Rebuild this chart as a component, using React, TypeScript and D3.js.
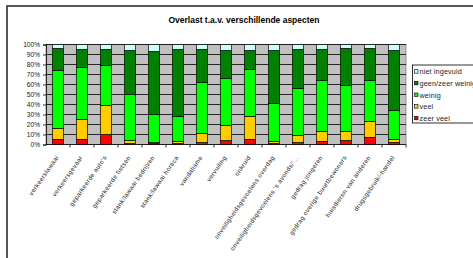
import { useEffect, useRef } from 'react';
import * as d3 from 'd3';

const categories = [
  'verkeerslawaai',
  'verkeersgevaar',
  "geparkeerde auto's",
  'geparkeerde fietsen',
  'stank/lawaai bedrijven',
  'stank/lawaai horeca',
  'vandalisme',
  'vervuiling',
  'onkruid',
  'onveiligheidsgevoelens overdag',
  "onveiligheidsgevoelens 's avonds/'...",
  'gedrag jongeren',
  'gedrag overige buurtbewoners',
  'huisdieren van anderen',
  'drugsgebruik/-handel',
];

// percentages per category, stacked bottom to top
const zeerVeel = [5, 5, 10, 1, 1, 1, 2, 4, 5, 1, 2, 3, 4, 7, 2];
const veel = [11, 20, 29, 3, 1, 2, 9, 15, 23, 2, 7, 10, 9, 16, 3];
const weinig = [58, 52, 40, 46, 28, 25, 51, 47, 47, 38, 47, 51, 46, 41, 29];
const geenZeerWeinig = [22, 18, 16, 44, 63, 67, 33, 28, 19, 53, 39, 31, 37, 32, 60];
const nietIngevuld = [4, 5, 5, 6, 7, 5, 5, 6, 6, 6, 5, 5, 4, 4, 6];

const seriesNames = ['zeer veel', 'veel', 'weinig', 'geen/zeer weinig', 'niet ingevuld'];
const seriesColors = ['#ff0000', '#ffcc00', '#00ff00', '#008000', '#ccffff'];
const yTicks = [0, 10, 20, 30, 40, 50, 60, 70, 80, 90, 100];

const W = 473;
const H = 258;
const FONT = '"Liberation Sans", Arial, sans-serif';

export default function App() {
  const svgRef = useRef<SVGSVGElement>(null);

  useEffect(() => {
    if (!svgRef.current) return;
    const svg = d3.select(svgRef.current);
    svg.selectAll('*').remove();

    // outer chart border
    svg.append('rect')
      .attr('x', 7).attr('y', 6)
      .attr('width', 600).attr('height', 400)
      .attr('fill', '#fff')
      .attr('stroke', '#222')
      .attr('stroke-width', 1.5);

    svg.append('text')
      .attr('x', 244).attr('y', 23)
      .attr('text-anchor', 'middle')
      .attr('font-family', FONT)
      .attr('font-weight', 'bold')
      .attr('font-size', 8.5)
      .text('Overlast t.a.v. verschillende aspecten');

    const left = 46, right = 406, top = 44.5, bottom = 144.5;

    const x = d3.scaleBand<string>()
      .domain(categories)
      .range([left, right])
      .paddingInner(0.54)
      .paddingOuter(0.27);
    const xBand = d3.scaleBand<string>().domain(categories).range([left, right]);
    const y = d3.scaleLinear().domain([0, 100]).range([bottom, top]);

    // plot area
    svg.append('rect')
      .attr('x', left).attr('y', top)
      .attr('width', right - left).attr('height', bottom - top)
      .attr('fill', '#c0c0c0')
      .attr('stroke', '#808080')
      .attr('stroke-width', 0.8);

    svg.append('g')
      .selectAll('line')
      .data(yTicks.slice(1))
      .enter()
      .append('line')
      .attr('x1', left).attr('x2', right)
      .attr('y1', d => y(d)).attr('y2', d => y(d))
      .attr('stroke', '#000')
      .attr('stroke-width', 0.8);

    // y axis
    const yAxis = svg.append('g')
      .attr('transform', `translate(${left},0)`)
      .call(d3.axisLeft(y).tickValues(yTicks).tickSize(3).tickPadding(3).tickFormat(d => `${d}%`));
    yAxis.select('.domain').attr('stroke', '#000').attr('stroke-width', 0.8);
    yAxis.selectAll('line').attr('stroke', '#000').attr('stroke-width', 0.8);
    yAxis.selectAll('text')
      .attr('font-family', FONT)
      .attr('font-size', 6.6)
      .attr('fill', '#222');

    // x axis line and boundary ticks
    svg.append('line')
      .attr('x1', left).attr('x2', right)
      .attr('y1', bottom).attr('y2', bottom)
      .attr('stroke', '#000').attr('stroke-width', 0.8);
    svg.append('g')
      .selectAll('line')
      .data(categories)
      .enter()
      .append('line')
      .attr('x1', d => (xBand(d) || 0) + xBand.bandwidth())
      .attr('x2', d => (xBand(d) || 0) + xBand.bandwidth())
      .attr('y1', bottom).attr('y2', bottom + 3)
      .attr('stroke', '#000').attr('stroke-width', 0.8);

    // stacked bars
    const table = categories.map((c, i) => ({
      cat: c,
      'zeer veel': zeerVeel[i],
      veel: veel[i],
      weinig: weinig[i],
      'geen/zeer weinig': geenZeerWeinig[i],
      'niet ingevuld': nietIngevuld[i],
    }));
    const stack = d3.stack<any>().keys(seriesNames)(table);

    const layers = svg.append('g')
      .selectAll('g')
      .data(stack)
      .enter()
      .append('g')
      .attr('fill', (_d, i) => seriesColors[i]);
    layers.selectAll('rect')
      .data(d => d)
      .enter()
      .append('rect')
      .attr('x', d => x(d.data.cat) || 0)
      .attr('width', x.bandwidth())
      .attr('y', d => y(d[1]))
      .attr('height', d => y(d[0]) - y(d[1]))
      .attr('stroke', '#000')
      .attr('stroke-width', 0.7);

    // x labels
    svg.append('g')
      .selectAll('text')
      .data(categories)
      .enter()
      .append('text')
      .attr('transform', d => `translate(${(xBand(d) || 0) + xBand.bandwidth() / 2 + 1},${bottom + 13}) rotate(-55)`)
      .attr('text-anchor', 'end')
      .attr('font-family', FONT)
      .attr('font-size', 6.3)
      .attr('letter-spacing', 0.35)
      .attr('fill', '#222')
      .text(d => d);

    // legend
    const lg = svg.append('g');
    lg.append('rect')
      .attr('x', 412.5).attr('y', 65)
      .attr('width', 80).attr('height', 58)
      .attr('fill', '#fff')
      .attr('stroke', '#000')
      .attr('stroke-width', 0.8);
    const legendOrder = [4, 3, 2, 1, 0];
    const items = lg.selectAll('g.item')
      .data(legendOrder)
      .enter()
      .append('g')
      .attr('transform', (_d, i) => `translate(0,${71.7 + i * 11.65})`);
    items.append('rect')
      .attr('x', 414.5).attr('y', -2)
      .attr('width', 3.5).attr('height', 3.5)
      .attr('fill', d => seriesColors[d])
      .attr('stroke', '#000')
      .attr('stroke-width', 0.6);
    items.append('text')
      .attr('x', 419.5).attr('y', 0)
      .attr('dy', '0.35em')
      .attr('font-family', FONT)
      .attr('font-size', 7.2)
      .attr('letter-spacing', 0.15)
      .attr('fill', '#222')
      .text(d => seriesNames[d]);
  }, []);

  return (
    <svg
      ref={svgRef}
      width={W}
      height={H}
      style={{ position: 'absolute', left: 0, top: 0, background: '#fff' }}
    />
  );
}
